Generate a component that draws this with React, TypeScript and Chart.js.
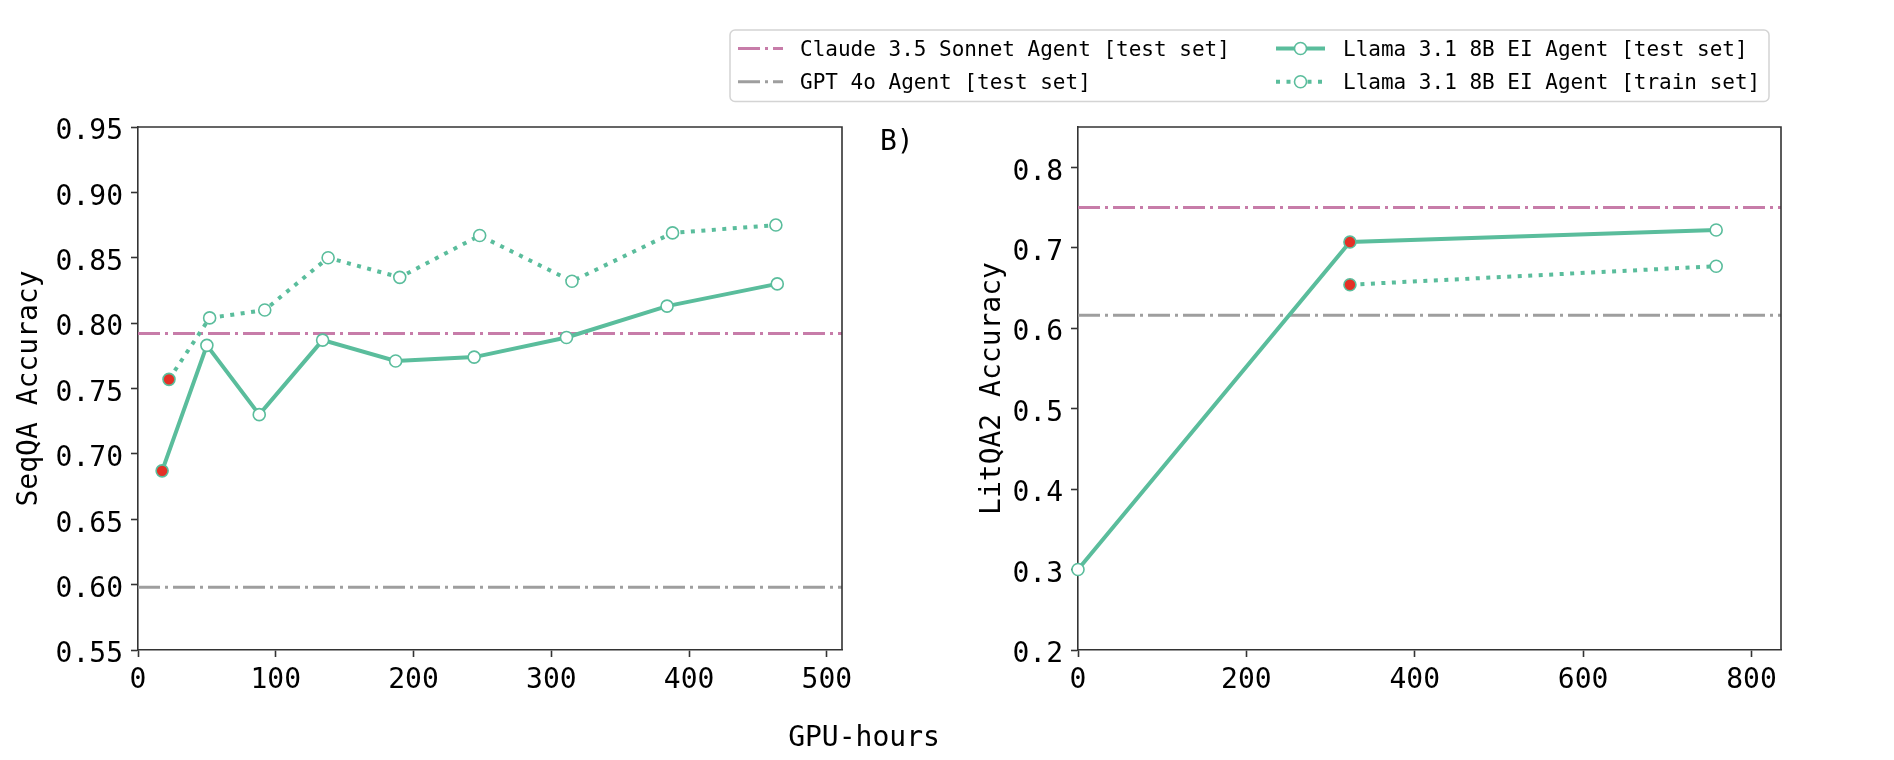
import React, { useEffect, useRef } from 'react';
import { Chart, registerables } from 'chart.js';

Chart.register(...registerables);

const FONT = "'DejaVu Sans Mono', monospace";
const TEAL = 'rgb(90,189,156)';
const PINK = 'rgb(199,124,169)';
const GRAY = 'rgb(158,158,158)';
const RED = 'rgb(228,48,38)';
const SPINE = '#333333';

// ---------- SeqQA (left panel) ----------
const seqTestGpuHours = [17.5, 50, 88, 134, 187, 244, 311, 384, 464];
const seqTestAcc = [0.687, 0.783, 0.73, 0.787, 0.771, 0.774, 0.789, 0.813, 0.83];
const seqTestHighlight = [true, false, false, false, false, false, false, false, false];
const seqTrainGpuHours = [22.5, 52, 92, 138, 190, 248, 315, 388, 463];
const seqTrainAcc = [0.757, 0.804, 0.81, 0.85, 0.835, 0.867, 0.832, 0.869, 0.875];
const seqTrainHighlight = [true, false, false, false, false, false, false, false, false];
const seqClaude = 0.792;
const seqGpt = 0.598;
const seqXRange = [0, 511];
const seqYRange = [0.55, 0.95];
const seqXTicks = [0, 100, 200, 300, 400, 500];
const seqYTicks = [0.55, 0.6, 0.65, 0.7, 0.75, 0.8, 0.85, 0.9, 0.95];

// ---------- LitQA2 (right panel) ----------
const litTestGpuHours = [0, 323, 758];
const litTestAcc = [0.3, 0.707, 0.722];
const litTestHighlight = [false, true, false];
const litTrainGpuHours = [323, 758];
const litTrainAcc = [0.654, 0.677];
const litTrainHighlight = [true, false];
const litClaude = 0.75;
const litGpt = 0.616;
const litXRange = [0, 835];
const litYRange = [0.2, 0.85];
const litXTicks = [0, 200, 400, 600, 800];
const litYTicks = [0.2, 0.3, 0.4, 0.5, 0.6, 0.7, 0.8];

// ---------- texts ----------
const legendLabels = [
  'Claude 3.5 Sonnet Agent [test set]',
  'GPT 4o Agent [test set]',
  'Llama 3.1 8B EI Agent [test set]',
  'Llama 3.1 8B EI Agent [train set]',
];
const xTitle = 'GPU-hours';
const seqYTitle = 'SeqQA Accuracy';
const litYTitle = 'LitQA2 Accuracy';
const panelLabel = 'B)';

const REF_DASH = [22, 5, 3, 5];
const DOT_DASH = [4, 6.5];
const TICK_SIZE = 28;
const SERIES_W = 4;
const MARK_R = 6;

function refDataset(y: number, color: string, xr: number[]) {
  return {
    data: [
      { x: xr[0], y },
      { x: xr[1], y },
    ],
    borderColor: color,
    borderWidth: 3,
    borderDash: REF_DASH,
    borderCapStyle: 'butt',
    pointRadius: 0,
    fill: false,
    tension: 0,
  };
}

function seriesDataset(xs: number[], ys: number[], hl: boolean[], dash: number[] | undefined, clip: any) {
  return {
    data: xs.map((x, i) => ({ x, y: ys[i] })),
    borderColor: TEAL,
    borderWidth: SERIES_W,
    borderDash: dash || [],
    borderCapStyle: 'butt',
    pointRadius: MARK_R,
    pointBorderWidth: 1.6,
    pointBackgroundColor: hl.map((h) => (h ? RED : '#ffffff')),
    pointBorderColor: TEAL,
    fill: false,
    tension: 0,
    clip,
  };
}

const spinePlugin = {
  id: 'spines',
  afterDraw(chart: any) {
    const { ctx, chartArea: a } = chart;
    ctx.save();
    ctx.strokeStyle = SPINE;
    ctx.lineWidth = 1.6;
    ctx.beginPath();
    ctx.moveTo(a.left, a.top);
    ctx.lineTo(a.right, a.top);
    ctx.lineTo(a.right, a.bottom);
    ctx.stroke();
    ctx.restore();
  },
};

function scaleOpts(opts: {
  range: number[];
  ticks: number[];
  fmt: (v: number) => string;
  isY: boolean;
  title?: string;
  size: number;
}) {
  const o: any = {
    type: 'linear',
    min: opts.range[0],
    max: opts.range[1],
    afterBuildTicks: (s: any) => {
      s.ticks = opts.ticks.map((v) => ({ value: v }));
    },
    afterFit: (s: any) => {
      if (opts.isY) s.width = opts.size;
      else s.height = opts.size;
    },
    ticks: {
      font: { family: FONT, size: TICK_SIZE },
      color: '#000',
      padding: opts.isY ? 8 : 7,
      labelOffset: opts.isY ? 5 : 0,
      maxRotation: 0,
      autoSkip: false,
      callback: (v: any) => opts.fmt(Number(v)),
    },
    grid: {
      display: true,
      drawOnChartArea: false,
      drawTicks: true,
      tickLength: 7,
      tickWidth: 1.6,
      tickColor: SPINE,
    },
    border: { display: true, color: SPINE, width: 1.6 },
  };
  if (opts.title) {
    o.title = {
      display: true,
      text: opts.title,
      color: '#000',
      font: { family: FONT, size: TICK_SIZE },
      padding: 0,
    };
  }
  return o;
}

function baseOptions(padding: any, x: any, y: any) {
  return {
    responsive: false,
    animation: false,
    devicePixelRatio: 1,
    events: [],
    layout: { padding },
    plugins: {
      legend: { display: false },
      tooltip: { enabled: false },
      title: { display: false },
    },
    scales: { x, y },
  };
}

// right canvas starts at this page x
const RIGHT_LEFT = 700;

const overlayPlugin = {
  id: 'overlay',
  afterDraw(chart: any) {
    const ctx = chart.ctx;
    const ox = RIGHT_LEFT;
    ctx.save();
    // legend frame
    const bx = 730 - ox;
    const by = 30;
    const bw = 1769 - 730;
    const bh = 101.5 - 30;
    ctx.beginPath();
    (ctx as any).roundRect(bx, by, bw, bh, 5);
    ctx.fillStyle = 'rgba(255,255,255,0.85)';
    ctx.fill();
    ctx.strokeStyle = '#d4d4d4';
    ctx.lineWidth = 1.5;
    ctx.stroke();

    const rows = [48.5, 81.7];
    const cols = [
      { h0: 738 - ox, h1: 783 - ox, tx: 800 - ox },
      { h0: 1276 - ox, h1: 1325 - ox, tx: 1343 - ox },
    ];
    const items = [
      { col: 0, row: 0, color: PINK, dash: REF_DASH, w: 3, marker: false },
      { col: 0, row: 1, color: GRAY, dash: REF_DASH, w: 3, marker: false },
      { col: 1, row: 0, color: TEAL, dash: [], w: SERIES_W, marker: true },
      { col: 1, row: 1, color: TEAL, dash: DOT_DASH, w: SERIES_W, marker: true },
    ];
    ctx.font = `21px ${FONT}`;
    ctx.textBaseline = 'alphabetic';
    ctx.textAlign = 'left';
    items.forEach((it, i) => {
      const c = cols[it.col];
      const y = rows[it.row];
      ctx.beginPath();
      ctx.setLineDash(it.dash);
      ctx.lineCap = 'butt';
      ctx.strokeStyle = it.color;
      ctx.lineWidth = it.w;
      ctx.moveTo(c.h0, y);
      ctx.lineTo(c.h1, y);
      ctx.stroke();
      ctx.setLineDash([]);
      if (it.marker) {
        ctx.beginPath();
        ctx.arc((c.h0 + c.h1) / 2, y, MARK_R, 0, Math.PI * 2);
        ctx.fillStyle = '#fff';
        ctx.fill();
        ctx.lineWidth = 1.6;
        ctx.strokeStyle = TEAL;
        ctx.stroke();
      }
      ctx.fillStyle = '#000';
      ctx.fillText(legendLabels[i], c.tx, y + 7.6);
    });

    // panel label and shared x title
    ctx.font = `${TICK_SIZE}px ${FONT}`;
    ctx.fillStyle = '#000';
    ctx.textAlign = 'left';
    ctx.fillText(panelLabel, 880 - ox, 150);
    ctx.textAlign = 'center';
    ctx.fillText(xTitle, 864 - ox, 746);
    ctx.restore();
  },
};

function leftConfig(): any {
  const x = scaleOpts({ range: seqXRange, ticks: seqXTicks, fmt: (v) => String(v), isY: false, size: 60 });
  const y = scaleOpts({ range: seqYRange, ticks: seqYTicks, fmt: (v) => v.toFixed(2), isY: true, title: seqYTitle, size: 125 });
  return {
    type: 'line',
    data: {
      datasets: [
        seriesDataset(seqTestGpuHours, seqTestAcc, seqTestHighlight, undefined, undefined),
        seriesDataset(seqTrainGpuHours, seqTrainAcc, seqTrainHighlight, DOT_DASH, undefined),
        refDataset(seqClaude, PINK, seqXRange),
        refDataset(seqGpt, GRAY, seqXRange),
      ],
    },
    options: baseOptions({ left: 13, right: 880 - 842, top: 127, bottom: 760 - 650 - 60 }, x, y),
    plugins: [spinePlugin],
  };
}

function rightConfig(): any {
  const x = scaleOpts({ range: litXRange, ticks: litXTicks, fmt: (v) => String(v), isY: false, size: 60 });
  const y = scaleOpts({ range: litYRange, ticks: litYTicks, fmt: (v) => v.toFixed(1), isY: true, title: litYTitle, size: 102 });
  return {
    type: 'line',
    data: {
      datasets: [
        seriesDataset(litTestGpuHours, litTestAcc, litTestHighlight, undefined, false),
        seriesDataset(litTrainGpuHours, litTrainAcc, litTrainHighlight, DOT_DASH, undefined),
        refDataset(litClaude, PINK, litXRange),
        refDataset(litGpt, GRAY, litXRange),
      ],
    },
    options: baseOptions({ left: 276, right: 1194 - 1081, top: 127, bottom: 760 - 650 - 60 }, x, y),
    plugins: [spinePlugin, overlayPlugin],
  };
}

function ChartCanvas({ left, width, make }: { left: number; width: number; make: () => any }) {
  const ref = useRef<HTMLCanvasElement | null>(null);
  useEffect(() => {
    if (!ref.current) return;
    const chart = new Chart(ref.current, make());
    return () => chart.destroy();
  }, []);
  return (
    <canvas
      ref={ref}
      width={width}
      height={760}
      style={{ position: 'absolute', left, top: 0, width, height: 760 }}
    />
  );
}

export default function App() {
  return (
    <div
      style={{
        position: 'absolute',
        left: 0,
        top: 0,
        width: 1894,
        height: 760,
        background: '#ffffff',
        overflow: 'hidden',
      }}
    >
      <ChartCanvas left={0} width={880} make={leftConfig} />
      <ChartCanvas left={RIGHT_LEFT} width={1194} make={rightConfig} />
    </div>
  );
}
